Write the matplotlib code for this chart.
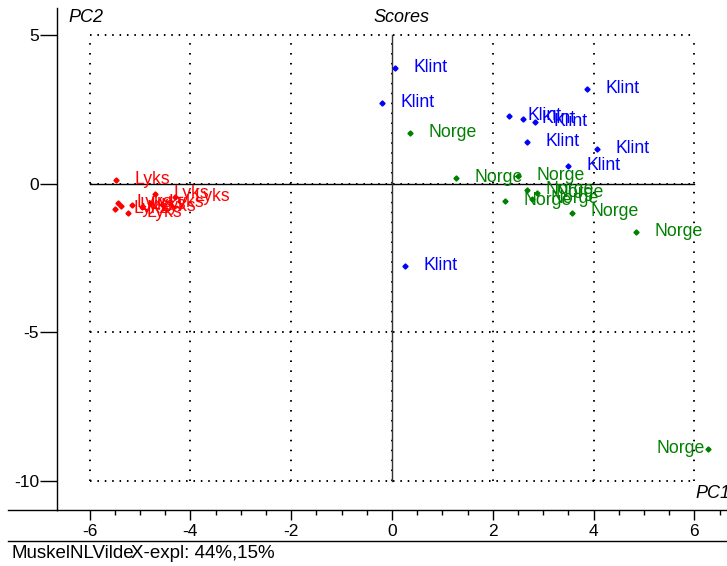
import matplotlib
matplotlib.use("Agg")
import matplotlib.pyplot as plt
from matplotlib.lines import Line2D
from matplotlib.ticker import FixedLocator

plt.rcParams['font.family'] = ['Liberation Sans', 'DejaVu Sans']

# score values
klint_x = [0.06, -0.20, 3.87, 2.32, 2.60, 2.84, 2.68, 4.07, 3.49, 0.26]
klint_y = [3.89, 2.71, 3.19, 2.28, 2.18, 2.08, 1.40, 1.17, 0.60, -2.77]

norge_x = [0.36, 1.27, 2.50, 2.68, 2.88, 2.24, 2.78, 3.57, 4.84, 6.27]
norge_y = [1.71, 0.19, 0.26, -0.21, -0.31, -0.58, -0.51, -0.97, -1.62, -8.92]

lyks_x = [-5.48, -5.44, -5.38, -5.50, -5.24, -4.70, -4.30, -5.16, -4.96, -4.80]
lyks_y = [0.12, -0.65, -0.75, -0.85, -0.99, -0.35, -0.45, -0.72, -0.78, -0.65]

groups = [("Klint", klint_x, klint_y, "#0000ff"),
          ("Norge", norge_x, norge_y, "#008000"),
          ("Lyks", lyks_x, lyks_y, "#ff0000")]

x_major = [-6, -4, -2, 0, 2, 4, 6]
y_major = [5, 0, -5, -10]

W, H = 727, 566
fig = plt.figure(figsize=(W / 100, H / 100), dpi=100)
ax = fig.add_axes([57 / W, (H - 510) / H, 670 / W, 502 / H])
ax.set_xlim(-6.647, 6.647)
ax.set_ylim(-10.975, 5.91)

for s in ["top", "right"]:
    ax.spines[s].set_visible(False)
ax.spines["left"].set_linewidth(1.0)
ax.spines["bottom"].set_linewidth(1.0)

# dotted frame / grid
dot_h = dict(color="black", lw=1.4, ls=(0, (0.8, 3.0)))
dot_v = dict(color="black", lw=1.4, ls=(0, (0.8, 4.3)))
for yv in [5, -5, -10, 0]:
    ax.plot([-6, 6], [yv, yv], **dot_h)
for xv in [-6, -4, -2, 2, 4, 6, 0]:
    ax.plot([xv, xv], [-10, 5], **dot_v)
ax.plot([-6, 6], [0, 0], color="black", lw=1.0)
ax.plot([0, 0], [-10, 5], color="#333333", lw=1.0)

for name, xs, ys, col in groups:
    ax.plot(xs, ys, ls="none", marker="D", ms=2.6, color=col)
    for x, y in zip(xs, ys):
        # labels that would run off the right edge go to the left of the point
        if x > 6:
            off, ha = (-2, 0.5), "right"
        else:
            off, ha = (13.5, 0.5), "left"
        ax.annotate(name, (x, y), xytext=off, textcoords="offset points",
                    va="center", ha=ha, fontsize=12.7, color=col,
                    annotation_clip=False)

ax.xaxis.set_major_locator(FixedLocator(x_major))
ax.xaxis.set_minor_locator(FixedLocator([v / 2 for v in range(-12, 14) if v % 4 != 0]))
ax.yaxis.set_major_locator(FixedLocator(y_major))
ax.set_xticklabels([str(v) for v in x_major])
ax.set_yticklabels([str(v) for v in y_major])
ax.tick_params(axis="x", which="major", direction="out", length=7, width=1, labelsize=12.5, pad=3)
ax.tick_params(axis="x", which="minor", direction="out", length=3.5, width=1)
ax.tick_params(axis="y", which="major", direction="out", length=12, width=1, labelsize=12.5, pad=1)

# extended axis line and bottom separator
fig.add_artist(Line2D([8 / W, 57 / W], [(H - 510) / H] * 2, color="black", lw=1.0))
fig.add_artist(Line2D([8 / W, 1], [(H - 541) / H] * 2, color="black", lw=1.0))

fig.text(68 / W, (H - 18) / H, "PC2", fontsize=13, style="italic", va="center")
fig.text(401 / W, (H - 18) / H, "Scores", fontsize=13, style="italic", va="center", ha="center")
fig.text(695 / W, (H - 493) / H, "PC1", fontsize=13, style="italic", va="center")
fig.text(12 / W, (H - 553) / H, "MuskelNLVilde", fontsize=13.5, va="center")
fig.text(131 / W, (H - 553) / H, "X-expl: 44%,15%", fontsize=13.5, va="center")

fig.savefig("out.png", dpi=100)
